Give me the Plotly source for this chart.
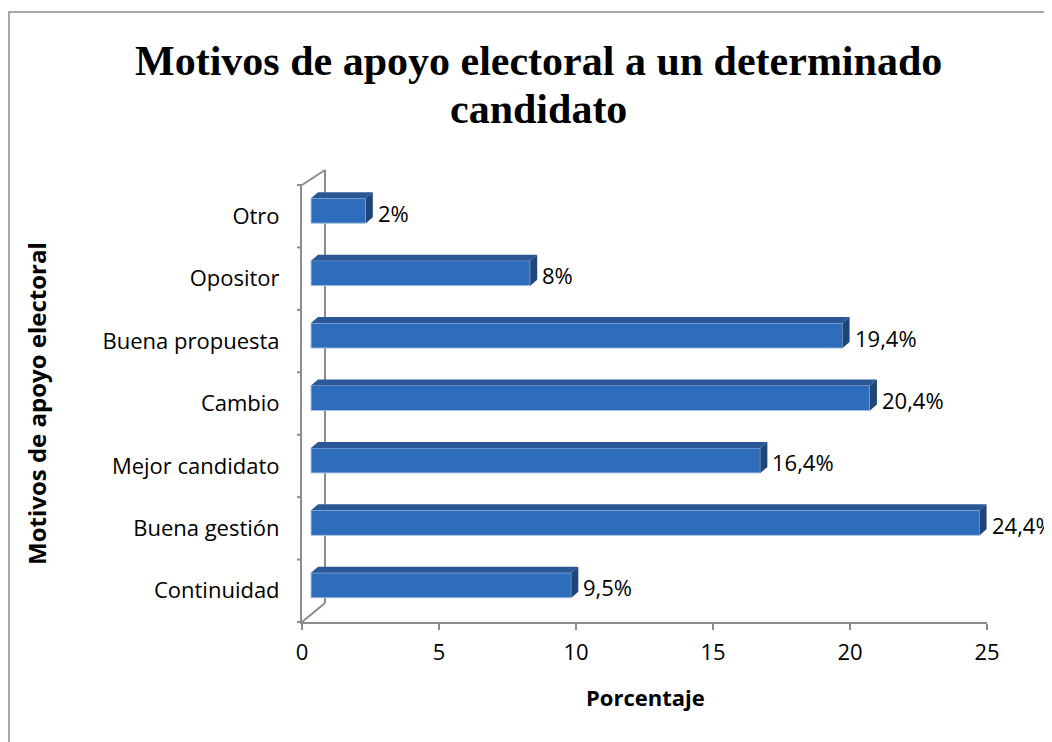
import plotly.graph_objects as go

# ---- data (bottom to top) ----
categories = ["Continuidad", "Buena gestión", "Mejor candidato", "Cambio",
              "Buena propuesta", "Opositor", "Otro"]
values = [9.5, 24.4, 16.4, 20.4, 19.4, 8, 2]
x_ticks = [0, 5, 10, 15, 20, 25]
title_lines = ["Motivos de apoyo electoral a un determinado", "candidato"]
x_title = "Porcentaje"
y_title = "Motivos de apoyo electoral"


def fmt(v):
    return f"{v:g}".replace(".", ",") + "%"


labels = [fmt(v) for v in values]

# ---- style / geometry constants ----
OFF = 8                      # page body margin of the html page
PAGE_W, PAGE_H = 1052, 742
W, H = PAGE_W - OFF, PAGE_H - OFF
PL, PR, PT, PB = 302, 987, 185, 622   # plot area in page pixels
ML, MR, MT, MB = PL - OFF, PAGE_W - PR, PT - OFF, PAGE_H - PB
PW, PH = PR - PL, PB - PT
XR = (0, 25)
n = len(categories)
px_x = PW / (XR[1] - XR[0])
px_y = PH / n
DX = 9 / px_x          # bar offset into depth
DY = 5.5 / px_y        # bar vertical shift
HALF = 12.5 / px_y     # half bar height
DDX = 7 / px_x         # depth of bar (x)
DDY = 6 / px_y         # depth of bar (y)

FRONT = "#2E6DBB"
TOP = "#2A5897"
SIDE = "#1F4679"
AXIS = "#8C8C8C"
SANS = "'Open Sans', Lato, sans-serif"
SERIF = "'Liberation Serif', 'Times New Roman', serif"


def px2dom_x(px):
    return (px - PL) / PW


def px2dom_y(py):
    return (PB - py) / PH


ys = [i + DY for i in range(n)]

fig = go.Figure()

fig.add_trace(go.Bar(
    orientation="h", x=values, y=ys, base=DX, width=2 * HALF,
    marker=dict(color=FRONT, line=dict(color="#A7C0E2", width=1)),
    hoverinfo="skip", showlegend=False))

top_x, top_y, side_x, side_y = [], [], [], []
for v, y in zip(values, ys):
    x0, x1 = DX, DX + v
    top_x += [x0, x1, x1 + DDX, x0 + DDX, x0, None]
    top_y += [y + HALF, y + HALF, y + HALF + DDY, y + HALF + DDY, y + HALF, None]
    side_x += [x1, x1 + DDX, x1 + DDX, x1, x1, None]
    side_y += [y - HALF, y - HALF + DDY, y + HALF + DDY, y + HALF, y - HALF, None]

fig.add_trace(go.Scatter(x=top_x, y=top_y, mode="lines", fill="toself",
                         fillcolor=TOP, line=dict(width=0, color=TOP),
                         hoverinfo="skip", showlegend=False))
fig.add_trace(go.Scatter(x=side_x, y=side_y, mode="lines", fill="toself",
                         fillcolor=SIDE, line=dict(width=0, color=SIDE),
                         hoverinfo="skip", showlegend=False))

# ---- axis furniture (domain-relative) ----
shapes = []
tick = 5 / PW
for k in range(n + 1):
    shapes.append(dict(type="line", xref="x domain", yref="y domain",
                       x0=-tick, x1=0, y0=k / n, y1=k / n,
                       line=dict(color=AXIS, width=2), layer="below"))
wx = px2dom_x(325)
wt = px2dom_y(170)
wb = px2dom_y(603)
shapes += [
    dict(type="line", xref="x domain", yref="y domain", x0=0, y0=1,
         x1=wx, y1=wt, line=dict(color=AXIS, width=2), layer="below"),
    dict(type="line", xref="x domain", yref="y domain", x0=wx, y0=wt,
         x1=wx, y1=wb, line=dict(color=AXIS, width=2), layer="below"),
    dict(type="line", xref="x domain", yref="y domain", x0=wx, y0=wb,
         x1=0, y1=0, line=dict(color=AXIS, width=2), layer="below"),
    # chart border
    dict(type="rect", xref="paper", yref="paper",
         x0=px2dom_x(9), x1=px2dom_x(PAGE_W + 30),
         y0=px2dom_y(PAGE_H + 30), y1=px2dom_y(12),
         line=dict(color="#8A8A8A", width=1.5), layer="below"),
]

annotations = [
    dict(text="<b>" + y_title + "</b>", textangle=-90,
         xref="paper", yref="paper", x=px2dom_x(36), y=px2dom_y(404),
         xanchor="center", yanchor="middle", showarrow=False,
         font=dict(family=SANS, size=24, color="#000000")),
    dict(text="<b>" + x_title + "</b>",
         xref="paper", yref="paper", x=px2dom_x(645), y=px2dom_y(697),
         xanchor="center", yanchor="middle", showarrow=False,
         font=dict(family=SANS, size=22, color="#000000")),
]
for line, cy in zip(title_lines, [61, 109]):
    annotations.append(dict(
        text="<b>" + line + "</b>", xref="paper", yref="paper",
        x=px2dom_x(538), y=px2dom_y(cy), xanchor="center", yanchor="middle",
        showarrow=False, font=dict(family=SERIF, size=42, color="#000000")))

# data labels
for v, y, lab in zip(values, ys, labels):
    annotations.append(dict(
        text=lab, x=DX + v + DDX, y=y, xref="x", yref="y",
        xanchor="left", yanchor="middle", xshift=3, yshift=-2,
        showarrow=False, font=dict(family=SANS, size=22, color="#000000")))

fig.update_layout(
    width=W, height=H,
    margin=dict(l=ML, r=MR, t=MT, b=MB, autoexpand=False),
    paper_bgcolor="white", plot_bgcolor="white",
    barmode="overlay",
    xaxis=dict(range=list(XR), tickvals=x_ticks, ticktext=[str(t) for t in x_ticks],
               showgrid=False, zeroline=False, showline=True,
               linecolor=AXIS, linewidth=2, ticks="outside", ticklen=6,
               tickwidth=2, tickcolor=AXIS, ticklabelstandoff=4,
               tickfont=dict(family=SANS, size=22, color="#000000")),
    yaxis=dict(range=[-0.5, n - 0.5], tickvals=list(range(n)), ticktext=categories,
               showgrid=False, zeroline=False, showline=True,
               linecolor=AXIS, linewidth=2, ticks="",
               ticklabelstandoff=16,
               tickfont=dict(family=SANS, size=22, color="#000000")),
    shapes=shapes,
    annotations=annotations,
)

fig.write_html("out.html")
